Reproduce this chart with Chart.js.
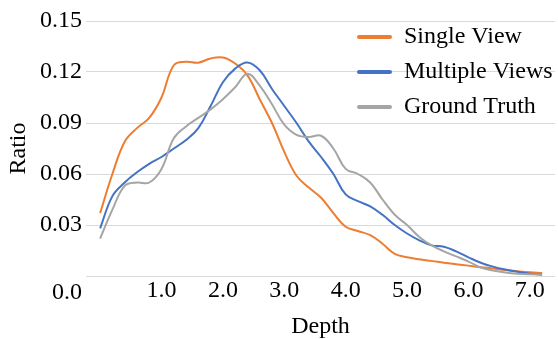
<!DOCTYPE html>
<html><head><meta charset="utf-8">
<script src="https://cdn.jsdelivr.net/npm/chart.js@4.4.1/dist/chart.umd.min.js"></script>
<style>html,body{margin:0;padding:0;background:#fff}#wrap{width:558px;height:339px;position:relative}</style>
</head><body><div id="wrap"><canvas id="c"></canvas></div>
<script>
const depths = [0.0,0.2,0.4,0.6,0.8,1.0,1.2,1.4,1.6,1.8,2.0,2.2,2.4,2.6,2.8,3.0,3.2,3.4,3.6,3.8,4.0,4.2,4.4,4.6,4.8,5.0,5.2,5.4,5.6,5.8,6.0,6.2,6.4,6.6,6.8,7.0,7.2];
const singleView = [0.037,0.060,0.079,0.087,0.093,0.105,0.124,0.126,0.1255,0.128,0.1285,0.125,0.118,0.104,0.090,0.073,0.059,0.052,0.046,0.037,0.029,0.0265,0.024,0.019,0.013,0.011,0.0098,0.0089,0.0078,0.0069,0.0061,0.0052,0.0044,0.0035,0.0028,0.0022,0.0018];
const multipleViews = [0.028,0.047,0.055,0.061,0.066,0.070,0.075,0.080,0.087,0.100,0.114,0.122,0.1256,0.121,0.110,0.100,0.090,0.079,0.070,0.060,0.048,0.044,0.041,0.036,0.030,0.025,0.021,0.018,0.0172,0.0145,0.011,0.0078,0.0055,0.0038,0.0025,0.0014,0.0008];
const groundTruth = [0.022,0.039,0.053,0.055,0.055,0.063,0.081,0.088,0.093,0.098,0.104,0.111,0.119,0.112,0.101,0.089,0.083,0.0817,0.0825,0.075,0.063,0.060,0.055,0.045,0.036,0.030,0.023,0.018,0.0145,0.0115,0.0085,0.005,0.0032,0.0020,0.0013,0.0010,0.0009];
const seriesNames = ['Single View','Multiple Views','Ground Truth'];
const seriesColors = ['#ED7D31','#4472C4','#A5A5A5'];
const xTickValues = [1,2,3,4,5,6,7];
const xTickLabels = ['1.0','2.0','3.0','4.0','5.0','6.0','7.0'];
const yTickValues = [0,0.03,0.06,0.09,0.12,0.15];
const yTickLabels = ['0.0','0.03','0.06','0.09','0.12','0.15'];
const xTitle = 'Depth';
const yTitle = 'Ratio';

const FONT = 'Liberation Serif, Times New Roman, serif';
const seriesValues = [singleView, multipleViews, groundTruth];
const datasets = seriesValues.map((vals, k) => ({
  label: seriesNames[k],
  data: vals.map((v, i) => ({x: depths[i], y: v})),
  borderColor: seriesColors[k],
  backgroundColor: seriesColors[k],
  borderWidth: 2,
  pointRadius: 0,
  tension: 0.4,
  fill: false,
  order: seriesValues.length - k
}));

const legendPlace = {
  id: 'legendPlace',
  afterLayout(chart) {
    const lg = chart.legend, ca = chart.chartArea;
    const w = lg.width, h = lg.height;
    lg.left = ca.right - 209; lg.right = lg.left + w;
    lg.top = ca.top - 7; lg.bottom = lg.top + h;
  }
};

new Chart(document.getElementById('c'), {
  type: 'line',
  data: { datasets },
  plugins: [legendPlace],
  options: {
    responsive: true,
    maintainAspectRatio: false,
    animation: false,
    layout: { padding: { top: 17, right: 3, left: 0, bottom: 0 } },
    plugins: {
      tooltip: { enabled: false },
      legend: {
        position: 'chartArea',
        align: 'start',
        labels: {
          font: { family: FONT, size: 24 },
          color: '#000',
          boxWidth: 35,
          boxHeight: 4,
          padding: 11,
          useBorderRadius: true,
          borderRadius: 2,
          generateLabels(chart) {
            return chart.data.datasets.map((d, i) => ({
              text: d.label, fillStyle: d.borderColor, strokeStyle: d.borderColor,
              lineWidth: 0, hidden: false, datasetIndex: i, fontColor: '#000', borderRadius: 2
            }));
          }
        }
      }
    },
    scales: {
      x: {
        type: 'linear',
        min: -0.23,
        max: 7.41,
        grid: { display: false },
        border: { display: false },
        afterBuildTicks(scale) { scale.ticks = xTickValues.map(v => ({ value: v })); },
        afterFit(scale) { scale.height = 63; },
        ticks: {
          autoSkip: false,
          maxRotation: 0,
          padding: -8,
          color: '#000',
          font: { family: FONT, size: 24 },
          callback: (v, i) => xTickLabels[i]
        },
        title: {
          display: true, text: xTitle, color: '#000',
          font: { family: FONT, size: 24, lineHeight: 1.1 },
          padding: { top: 0, bottom: -1 }
        }
      },
      y: {
        min: 0,
        max: 0.15,
        grid: { color: '#D9D9D9', lineWidth: 1, drawTicks: false },
        border: { display: false },
        afterBuildTicks(scale) { scale.ticks = yTickValues.map(v => ({ value: v })); },
        afterFit(scale) { scale.width = 86; },
        ticks: {
          autoSkip: false,
          padding: 4,
          color: '#000',
          font: { family: FONT, size: 24, lineHeight: 34 / 24 },
          callback: (v, i) => i === 0 ? ['', yTickLabels[0]] : yTickLabels[i]
        },
        title: {
          display: true, text: yTitle, color: '#000',
          font: { family: FONT, size: 24, lineHeight: 1.2 },
          padding: { top: 4, bottom: 0 }
        }
      }
    }
  }
});
</script></body></html>
